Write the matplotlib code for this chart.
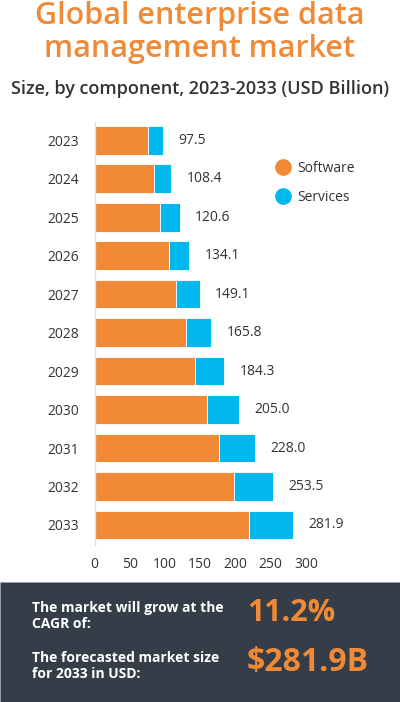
import numpy as np
import matplotlib.pyplot as plt
from matplotlib.patches import Rectangle
from matplotlib.lines import Line2D

plt.rcParams['font.family'] = ['Open Sans', 'DejaVu Sans']

# dati (USD miliardi)
anni = ['2023', '2024', '2025', '2026', '2027', '2028', '2029', '2030', '2031', '2032', '2033']
totale = [97.5, 108.4, 120.6, 134.1, 149.1, 165.8, 184.3, 205.0, 228.0, 253.5, 281.9]
software = [75.4, 83.9, 92.9, 105.2, 115.6, 129.3, 143.0, 159.1, 176.6, 197.4, 219.1]
servizi = [t - s for t, s in zip(totale, software)]
tick_x = [0, 50, 100, 150, 200, 250, 300]

arancio = '#F08A36'
azzurro = '#00B8EE'
scuro = '#353E48'
testo = '#333333'

W, H = 400, 702
fig = plt.figure(figsize=(W / 100, H / 100), dpi=100)

def px(x, y):
    return x / W, 1 - y / H

# titolo
fig.text(*px(200, 16), 'Global enterprise data', ha='center', va='center',
         fontsize=22, color=arancio, fontweight='semibold')
fig.text(*px(200, 49), 'management market', ha='center', va='center',
         fontsize=22, color=arancio, fontweight='semibold')
fig.text(*px(200, 89), 'Size, by component, 2023-2033 (USD Billion)', ha='center', va='center',
         fontsize=13, color=testo, fontweight='semibold')

# grafico a barre
ax = fig.add_axes([94.5 / W, 1 - 545 / H, (306 - 94.5) / W, (545 - 122) / H])
y = np.arange(len(anni))
ax.barh(y, software, height=0.75, color=arancio, edgecolor='white', linewidth=0.6)
ax.barh(y, servizi, left=software, height=0.75, color=azzurro, edgecolor='white', linewidth=0.6)
for i, t in enumerate(totale):
    ax.text(t + 22, i, f'{t:.1f}', va='center', ha='left', fontsize=10, color=testo)

ax.set_xlim(0, 300)
ax.set_ylim(10.52, -0.47)
ax.set_yticks(y)
ax.set_yticklabels(anni)
ax.set_xticks(tick_x)
ax.tick_params(axis='y', length=0, pad=11, labelsize=10, labelcolor=testo)
ax.tick_params(axis='x', length=0, pad=9, labelsize=10, labelcolor=testo)
for s in ['top', 'right', 'bottom']:
    ax.spines[s].set_visible(False)
ax.spines['left'].set_color('#E0E0E0')
ax.spines['left'].set_linewidth(1)

# legenda
maniglie = [Line2D([], [], marker='o', linestyle='none', markersize=11, color=arancio),
            Line2D([], [], marker='o', linestyle='none', markersize=11, color=azzurro)]
ax.legend(maniglie, ['Software', 'Services'], loc='center left',
          bbox_to_anchor=(264 / W, 1 - 183 / H), bbox_transform=fig.transFigure,
          frameon=False, fontsize=10, labelcolor=testo, handlelength=1.0,
          handletextpad=0.5, labelspacing=1.05)

# riquadro inferiore
fig.patches.append(Rectangle(px(0, 702), 1, 120 / H, transform=fig.transFigure,
                             facecolor=scuro, edgecolor='#9AA0A8', linewidth=0.6))
fig.text(*px(32, 616), 'The market will grow at the\nCAGR of:', ha='left', va='center',
         fontsize=10, color='white', fontweight='bold', linespacing=1.2)
fig.text(*px(32, 666), 'The forecasted market size\nfor 2033 in USD:', ha='left', va='center',
         fontsize=10, color='white', fontweight='bold', linespacing=1.2)
fig.text(*px(247, 613), '11.2%', ha='left', va='center', fontsize=22, color=arancio, fontweight='bold')
fig.text(*px(247, 663), f'${totale[-1]:.1f}B', ha='left', va='center', fontsize=23,
         color=arancio, fontweight='bold')

fig.savefig('out.png', dpi=100)
